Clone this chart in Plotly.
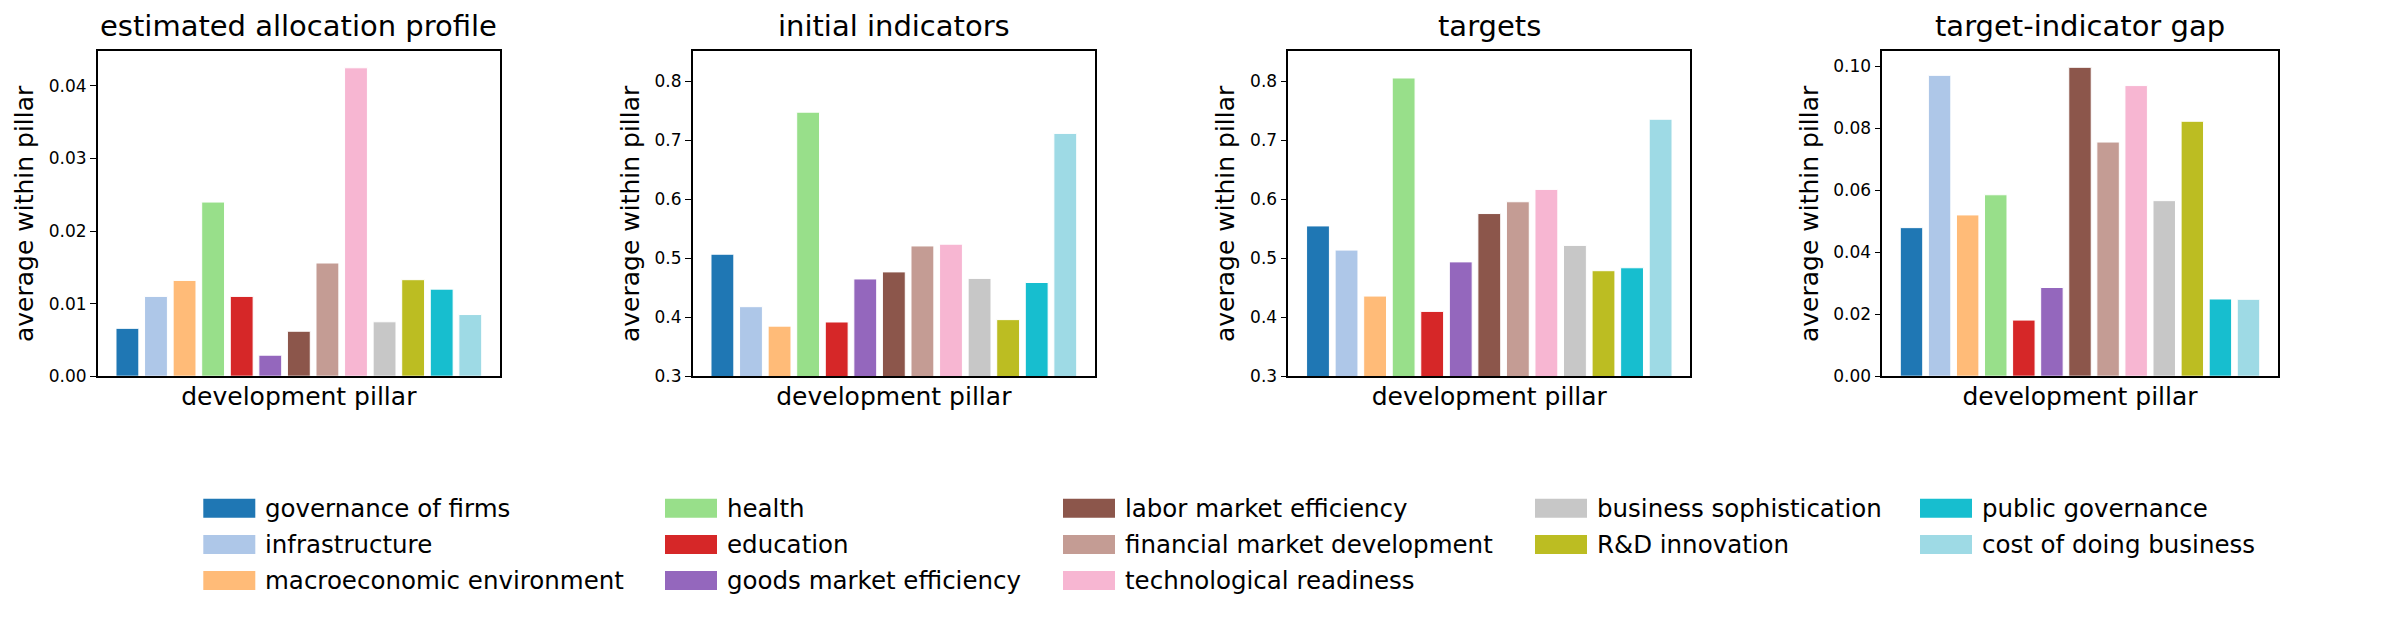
import plotly.graph_objects as go

# ---------------- data ----------------
pillars = [
    "governance of firms", "infrastructure", "macroeconomic environment", "health",
    "education", "goods market efficiency", "labor market efficiency",
    "financial market development", "technological readiness",
    "business sophistication", "R&D innovation", "public governance",
    "cost of doing business",
]
pillar_colors = [
    "#1f77b4", "#aec7e8", "#ffbb78", "#98df8a", "#d62728", "#9467bd", "#8c564b",
    "#c49c94", "#f7b6d2", "#c7c7c7", "#bcbd22", "#17becf", "#9edae5",
]
allocation = [0.0066, 0.0110, 0.0132, 0.0240, 0.0110, 0.0029, 0.0062,
              0.0156, 0.0425, 0.0075, 0.0133, 0.0120, 0.0085]
initial_indicators = [0.507, 0.418, 0.385, 0.748, 0.392, 0.465, 0.477,
                      0.521, 0.524, 0.466, 0.396, 0.459, 0.712]
targets = [0.555, 0.514, 0.436, 0.806, 0.410, 0.494, 0.576,
           0.596, 0.617, 0.522, 0.479, 0.484, 0.736]
gap = [0.0479, 0.0970, 0.0520, 0.0585, 0.0181, 0.0286, 0.0996,
       0.0755, 0.0937, 0.0566, 0.0822, 0.0249, 0.0248]

panel_titles = ["estimated allocation profile", "initial indicators",
                "targets", "target-indicator gap"]
panel_values = [allocation, initial_indicators, targets, gap]
y_ranges = [[0, 0.04475], [0.3, 0.851], [0.3, 0.851], [0, 0.1047]]
y_ticks = [[0, 0.01, 0.02, 0.03, 0.04],
           [0.3, 0.4, 0.5, 0.6, 0.7, 0.8],
           [0.3, 0.4, 0.5, 0.6, 0.7, 0.8],
           [0, 0.02, 0.04, 0.06, 0.08, 0.10]]
y_formats = [".2f", ".1f", ".1f", ".2f"]
x_label = "development pillar"
y_label = "average within pillar"

# ---------------- layout geometry ----------------
W, H = 2385, 629
FONT = "DejaVu Sans"
panel_px = [(97.7, 500.0), (692.7, 1095.0), (1288.3, 1690.3), (1882.3, 2277.7)]
top_px, bottom_px = 52.3, 382.3

fig = go.Figure()
layout = dict(
    width=W, height=H, margin=dict(l=0, r=0, t=0, b=0),
    paper_bgcolor="white", plot_bgcolor="white",
    barmode="overlay", showlegend=False,
    font=dict(family=FONT, color="black"),
)

annotations = []
for i, (vals, title) in enumerate(zip(panel_values, panel_titles)):
    n = i + 1
    xa = "x" if n == 1 else f"x{n}"
    ya = "y" if n == 1 else f"y{n}"
    fig.add_trace(go.Bar(
        x=list(range(len(pillars))), y=vals, width=0.8,
        marker=dict(color=pillar_colors, line=dict(color="white", width=1)),
        customdata=pillars, hovertemplate="%{customdata}: %{y}<extra></extra>",
        xaxis=xa, yaxis=ya,
    ))
    x0, x1 = panel_px[i]
    layout["xaxis" if n == 1 else f"xaxis{n}"] = dict(
        domain=[x0 / W, x1 / W], anchor=ya, range=[-1.04, 13.04],
        showticklabels=False, ticks="", showgrid=False, zeroline=False,
        showline=True, mirror=True, linecolor="black", linewidth=1.5,
        title=dict(text=x_label, font=dict(size=25, family=FONT), standoff=11),
    )
    layout["yaxis" if n == 1 else f"yaxis{n}"] = dict(
        domain=[1 - bottom_px / H, 1 - top_px / H], anchor=xa,
        range=y_ranges[i], tickvals=y_ticks[i], tickformat=y_formats[i],
        ticks="outside", ticklen=6, tickwidth=1.4, tickcolor="black",
        tickfont=dict(size=17, family=FONT),
        showgrid=False, zeroline=False,
        showline=True, mirror=True, linecolor="black", linewidth=1.5,
        title=dict(text=y_label, font=dict(size=25, family=FONT), standoff=8),
    )
    annotations.append(dict(
        text=title, xref="paper", yref="paper",
        x=(x0 + x1) / 2 / W, y=1 - 46 / H, xanchor="center", yanchor="bottom",
        showarrow=False, font=dict(size=29, family=FONT),
    ))

# ---------------- manual legend (column-major, 5 columns) ----------------
col_x = [203.3, 665.0, 1063.0, 1535.0, 1920.0]
row_y = [516.5, 553.2, 589.8]
sw_w, sw_h, text_off = 52, 19.3, 60
ncol = 5
per_col = [len(pillars) // ncol + (1 if c < len(pillars) % ncol else 0) for c in range(ncol)]
shapes = []
k = 0
for c in range(ncol):
    for r in range(per_col[c]):
        name, colr = pillars[k], pillar_colors[k]
        cx, cy = col_x[c], row_y[r]
        shapes.append(dict(
            type="rect", xref="paper", yref="paper",
            x0=cx / W, x1=(cx + sw_w) / W,
            y0=1 - (cy + sw_h / 2) / H, y1=1 - (cy - sw_h / 2) / H,
            fillcolor=colr, line=dict(width=0),
        ))
        annotations.append(dict(
            text=name, xref="paper", yref="paper",
            x=(cx + text_off) / W, y=1 - cy / H, xanchor="left", yanchor="middle",
            showarrow=False, font=dict(size=24.5, family=FONT),
        ))
        k += 1

layout["annotations"] = annotations
layout["shapes"] = shapes
fig.update_layout(**layout)
fig.write_html("out.html")
